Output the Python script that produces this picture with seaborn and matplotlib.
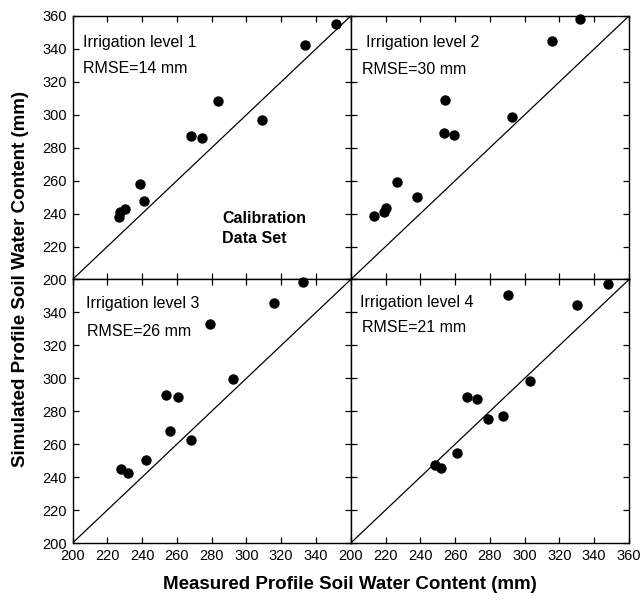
import matplotlib
matplotlib.use("Agg")
import matplotlib.pyplot as plt
import seaborn as sns
import pandas as pd

# ---- data ----
meas1 = [226.6, 227.2, 230.1, 238.8, 241.1, 268.3, 274.7, 283.8, 308.7, 333.8, 351.7]
sim1 = [238.1, 240.8, 242.8, 257.8, 247.9, 286.9, 286.1, 308.6, 296.6, 342.2, 355.1]
meas2 = [213.4, 219.2, 220.2, 226.7, 238.2, 254.3, 253.4, 259.3, 292.9, 315.7, 331.9]
sim2 = [238.3, 240.8, 243.6, 259.4, 249.9, 309.0, 288.7, 287.9, 298.9, 345.0, 358.0]
meas3 = [227.6, 231.7, 242.5, 253.5, 260.4, 256.0, 268.1, 279.3, 292.3, 315.8, 332.6]
sim3 = [245.0, 242.8, 250.1, 289.6, 288.5, 267.9, 262.4, 333.1, 299.3, 345.8, 358.6]
meas4 = [248.4, 251.7, 261.3, 267.0, 272.4, 278.7, 287.8, 290.3, 303.3, 330.2, 347.7]
sim4 = [247.3, 245.5, 254.5, 288.7, 287.6, 275.0, 277.4, 350.3, 298.4, 344.4, 357.2]

levels = ["Irrigation level 1", "Irrigation level 2", "Irrigation level 3", "Irrigation level 4"]
rmse = ["RMSE=14 mm", "RMSE=30 mm", "RMSE=26 mm", "RMSE=21 mm"]
ticks = [200, 220, 240, 260, 280, 300, 320, 340, 360]
labels_full = ["200", "220", "240", "260", "280", "300", "320", "340", "360"]
labels_no_top = ["200", "220", "240", "260", "280", "300", "320", "340", ""]

sns.set_style("ticks")
plt.rcParams["font.family"] = ["Liberation Sans", "DejaVu Sans"]
plt.rcParams["text.color"] = "black"
plt.rcParams["axes.labelcolor"] = "black"
plt.rcParams["xtick.color"] = "black"
plt.rcParams["ytick.color"] = "black"

fig, axes = plt.subplots(2, 2, figsize=(6.44, 6.01), dpi=100)
fig.subplots_adjust(left=0.1126, right=0.9767, top=0.9734, bottom=0.0965,
                    wspace=0, hspace=0)

data = [(meas1, sim1), (meas2, sim2), (meas3, sim3), (meas4, sim4)]
label_pos = [((206.3, 343.6), (205.9, 328.3)),
             ((209.0, 343.6), (206.7, 327.3)),
             ((207.6, 345.4), (208.6, 328.6)),
             ((205.2, 345.8), (206.3, 330.6))]

for i, ax in enumerate(axes.flat):
    m, s = data[i]
    df = pd.DataFrame({"Measured": m, "Simulated": s})
    ax.plot([200, 360], [200, 360], color="black", lw=0.9, zorder=1)
    sns.scatterplot(data=df, x="Measured", y="Simulated", ax=ax, color="black",
                    s=56, edgecolor="black", linewidth=0, clip_on=False, zorder=5)
    ax.set_xlim(200, 360)
    ax.set_ylim(200, 360)
    ax.set_xlabel("")
    ax.set_ylabel("")
    ax.set_xticks(ticks)
    ax.set_yticks(ticks)
    ax.tick_params(direction="in", length=4.5, width=0.9, top=True, right=True,
                   labelsize=10.5, pad=4, colors="black")
    for sp in ax.spines.values():
        sp.set_linewidth(1.0)
        sp.set_color("black")
    row, col = divmod(i, 2)
    if row == 0:
        ax.set_xticklabels([])
    else:
        ax.set_xticklabels(labels_no_top if col == 0 else labels_full)
    if col == 1:
        ax.set_yticklabels([])
    else:
        ax.set_yticklabels(labels_full if row == 0 else labels_no_top)
    (lx, ly), (rx, ry) = label_pos[i]
    ax.text(lx, ly, levels[i], fontsize=11.5, va="center", ha="left", color="black")
    ax.text(rx, ry, rmse[i], fontsize=11.5, va="center", ha="left", color="black")

axes[0, 0].text(286, 236.8, "Calibration", fontsize=11.5, fontweight="bold",
                va="center", ha="left", color="black")
axes[0, 0].text(286, 224.8, "Data Set", fontsize=11.5, fontweight="bold",
                va="center", ha="left", color="black")

fig.text(0.5435, 0.027, "Measured Profile Soil Water Content (mm)",
         ha="center", va="center", fontsize=13.5, fontweight="bold", color="black")
fig.text(0.032, 0.535, "Simulated Profile Soil Water Content (mm)",
         ha="center", va="center", rotation=90, fontsize=13.5, fontweight="bold",
         color="black")

fig.savefig("out.png", dpi=100)
